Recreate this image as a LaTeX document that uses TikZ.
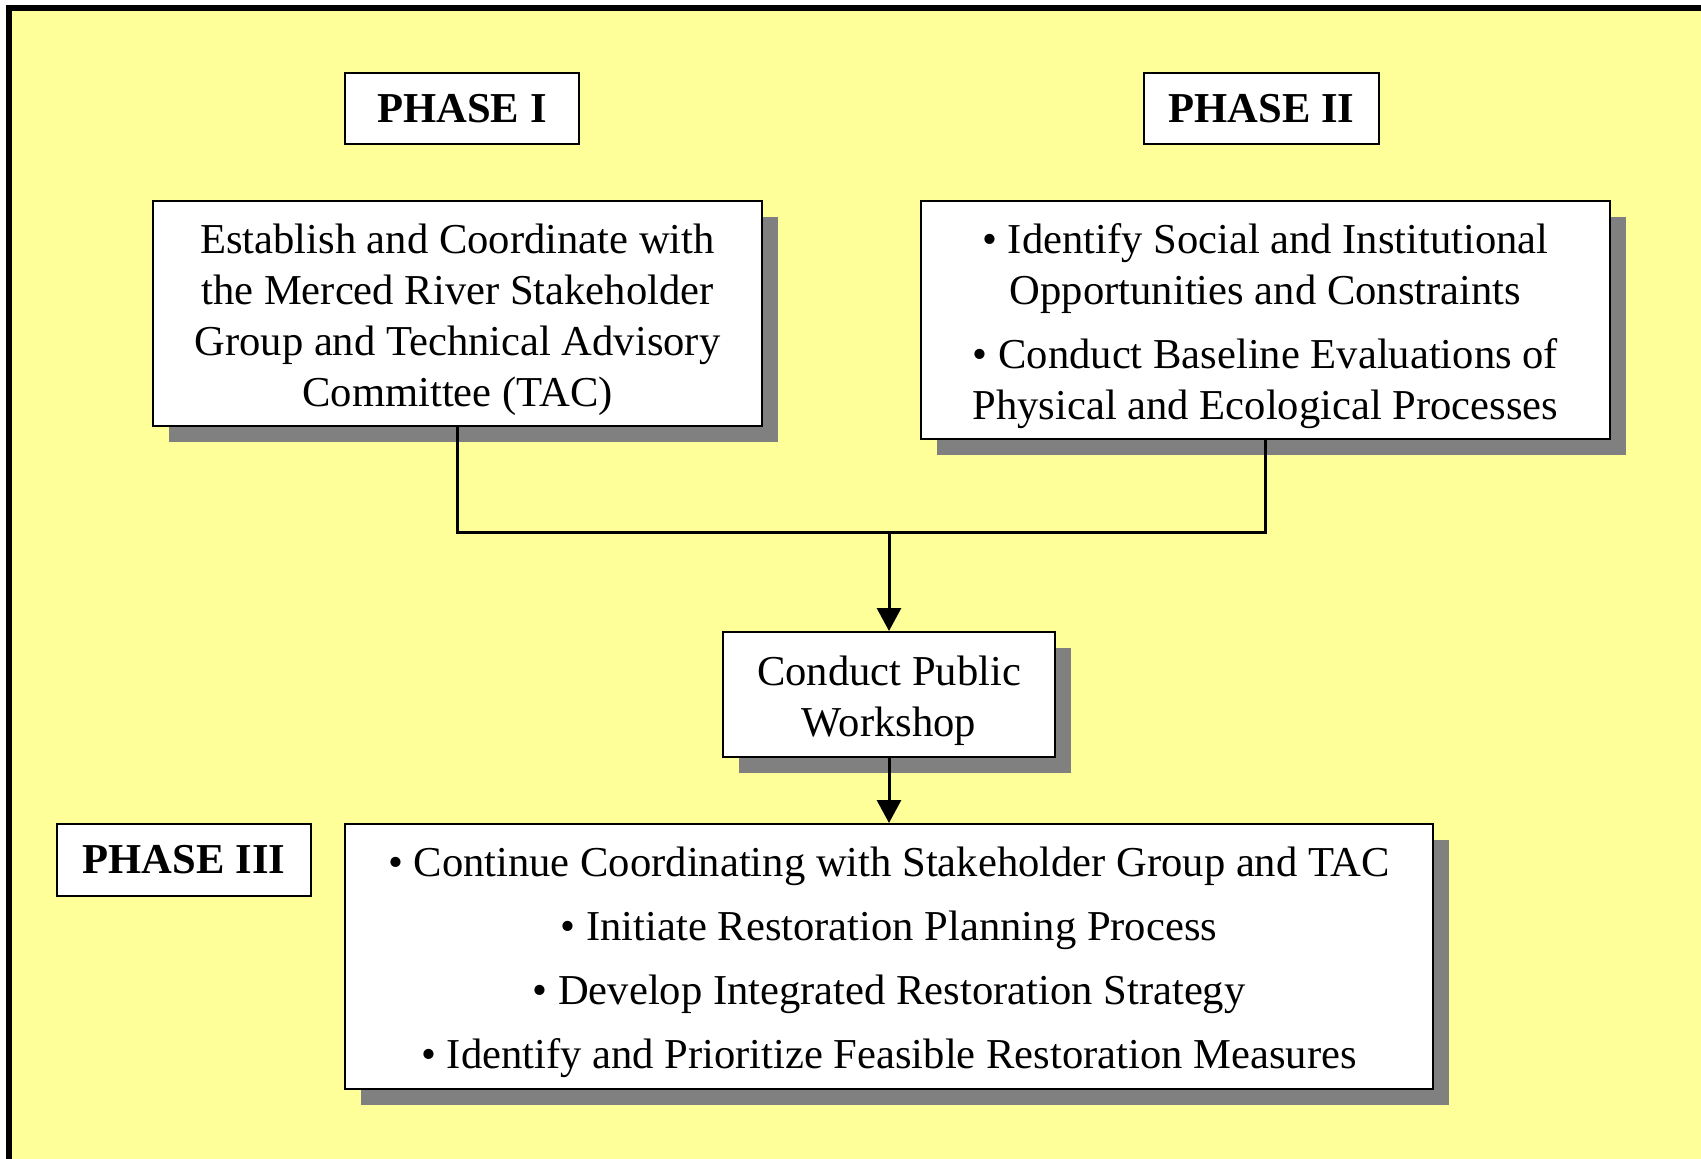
\documentclass[tikz,border=0pt]{standalone}
\usepackage{fontspec}
\setmainfont{Liberation Serif}
\usetikzlibrary{shadows,arrows.meta}
\definecolor{bgyellow}{HTML}{FFFF99}
\definecolor{shadowgray}{HTML}{808080}
\tikzset{
  sbox/.style={draw=black, fill=white, line width=1pt, inner sep=0pt,
    general shadow={fill=shadowgray, shadow xshift=8pt, shadow yshift=-8pt}},
  txt/.style={inner sep=0pt, align=center, font=\fontsize{21.3}{25.5}\selectfont},
  phasebox/.style={draw=black, fill=white, line width=0.8pt, inner sep=0pt,
    font=\fontsize{21.3}{25.5}\selectfont\bfseries},
  conn/.style={line width=1.5pt},
  arr/.style={conn, -{Triangle[width=12pt,length=11.5pt]}}
}
\begin{document}
\begin{tikzpicture}[x=0.5pt,y=-0.5pt]
\useasboundingbox (0,0) rectangle (1701,1158);
\clip (0,0) rectangle (1701,1158);
\fill[bgyellow] (9,8) rectangle (1730,1180);
\draw[line width=3pt] (9,1180) -- (9,8) -- (1730,8);

\node[phasebox, minimum width=117pt, minimum height=35.5pt] (p1) at (462,108.5) {\raisebox{-1pt}{PHASE I}};
\node[phasebox, minimum width=117.5pt, minimum height=35.5pt] (p2) at (1261.5,108.5) {\raisebox{-1pt}{PHASE II}};
\node[phasebox, minimum width=127pt, minimum height=36pt] (p3) at (184,860) {\raisebox{-1pt}{PHASE III}};

\node[sbox, minimum width=304.5pt, minimum height=112.5pt] (b1) at (457.5,313.5) {};
\node[txt] (b1t) at ([yshift=-3pt]b1.center)
  {Establish and Coordinate with\\ the Merced River Stakeholder\\ Group and Technical Advisory\\ Committee (TAC)};
\node[sbox, minimum width=344.5pt, minimum height=119pt] (b2) at (1265.5,320) {};
\node[txt] (b2t) at ([yshift=-3pt]b2.center)
  {• Identify Social and Institutional\\ Opportunities and Constraints\\[6.5pt] • Conduct Baseline Evaluations of\\ Physical and Ecological Processes};
\node[sbox, minimum width=166pt, minimum height=62.5pt] (ws) at (889,694.5) {};
\node[txt] (wst) at ([yshift=-3pt]ws.center) {Conduct Public\\ Workshop};
\node[sbox, minimum width=544pt, minimum height=132.5pt] (b3) at (889,956.5) {};
\node[txt] (b3t) at ([yshift=-3pt]b3.center)
  {• Continue Coordinating with Stakeholder Group and TAC\\[6.5pt]
   • Initiate Restoration Planning Process\\[6.5pt]
   • Develop Integrated Restoration Strategy\\[6.5pt]
   • Identify and Prioritize Feasible Restoration Measures};

\coordinate (j) at (889,532);
\draw[conn] (b1.south) |- (j);
\draw[conn] (b2.south) |- (j);
\draw[arr] (j) -- (ws.north);
\draw[arr] (ws.south) -- (b3.north);
\end{tikzpicture}
\end{document}
